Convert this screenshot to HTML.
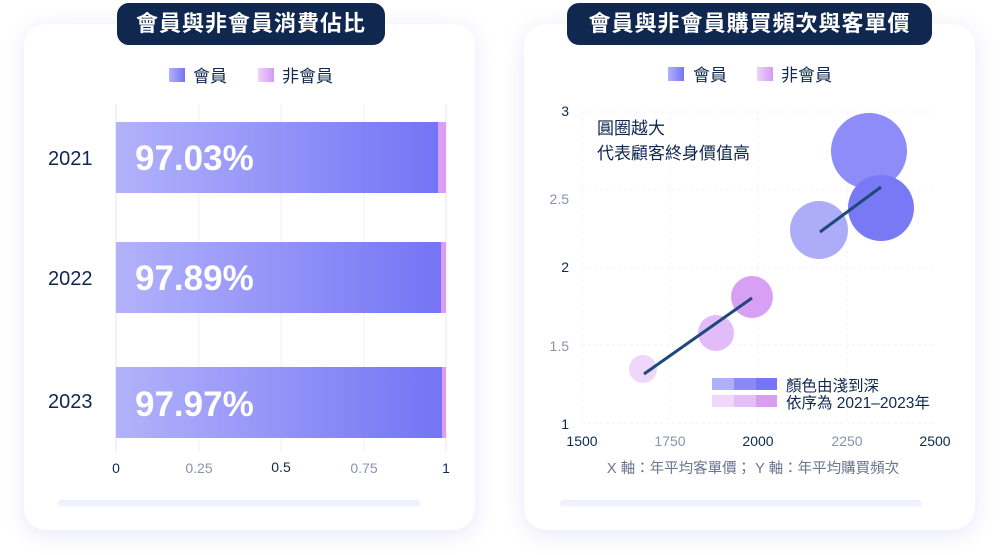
<!DOCTYPE html>
<html><head><meta charset="utf-8"><style>
*{margin:0;padding:0;box-sizing:border-box}
body{width:1000px;height:555px;background:#fff;position:relative;overflow:hidden;font-family:"Liberation Sans","Noto Sans CJK TC",sans-serif}
.card{position:absolute;top:24px;width:451px;height:506px;background:#fff;border-radius:22px;box-shadow:0 4px 22px rgba(120,120,230,.18)}
.pill{position:absolute;top:3px;height:42px;background:#10284f;border-radius:12px;color:#fff;font-size:22px;font-weight:bold;text-align:center;line-height:42px;letter-spacing:1px}
</style></head><body>
<div class="card" style="left:24px"></div>
<div class="card" style="left:524px"></div>
<div class="pill" style="left:117px;width:268px">會員與非會員消費佔比</div>
<div class="pill" style="left:567px;width:365px">會員與非會員購買頻次與客單價</div>
<svg width="1000" height="555" style="position:absolute;left:0;top:0" font-family="Liberation Sans, Noto Sans CJK TC, sans-serif">
<defs>
<linearGradient id="bar" x1="0" x2="1"><stop offset="0" stop-color="#b2b2fb"/><stop offset="1" stop-color="#7474f5"/></linearGradient>
<linearGradient id="pk" x1="0" x2="1"><stop offset="0" stop-color="#eed2fb"/><stop offset="1" stop-color="#d59af3"/></linearGradient>
<linearGradient id="sh" x1="0" x2="0" y1="0" y2="1"><stop offset="0" stop-color="#ececfd"/><stop offset="1" stop-color="#f6f6fe"/></linearGradient>
</defs>
<rect x="169" y="68" width="16" height="14" fill="url(#bar)"/>
<text x="193" y="82" font-size="17" fill="#10284f">會員</text>
<rect x="258" y="68" width="16" height="14" fill="url(#pk)"/>
<text x="282" y="82" font-size="17" fill="#10284f">非會員</text>
<g stroke="#eef0fa" stroke-width="1">
<line x1="199" y1="104" x2="199" y2="452"/><line x1="281" y1="104" x2="281" y2="452"/><line x1="364" y1="104" x2="364" y2="452"/>
</g>
<line x1="116" y1="104" x2="116" y2="452" stroke="#dfe3f5"/><line x1="446" y1="104" x2="446" y2="452" stroke="#e6e8f6"/>
<rect x="116" y="122" width="322" height="71" fill="url(#bar)"/><rect x="438" y="122" width="8" height="71" fill="#dc9df3"/>
<rect x="116" y="242" width="325" height="71" fill="url(#bar)"/><rect x="441" y="242" width="5" height="71" fill="#dc9df3"/>
<rect x="116" y="367" width="326" height="71" fill="url(#bar)"/><rect x="442" y="367" width="4" height="71" fill="#dc9df3"/>
<g font-size="35" font-weight="bold" fill="#fff"><text x="135" y="170">97.03%</text><text x="135" y="290">97.89%</text><text x="135" y="416">97.97%</text></g>
<g font-size="20" fill="#10284f"><text x="48" y="165">2021</text><text x="48" y="285">2022</text><text x="48" y="408">2023</text></g>
<g font-size="14" text-anchor="middle"><text x="116" y="473" fill="#10284f">0</text><text x="199" y="473" fill="#8a93ad">0.25</text><text x="281" y="472" fill="#10284f">0.5</text><text x="364" y="473" fill="#8a93ad">0.75</text><text x="446" y="473" fill="#10284f">1</text></g>
<rect x="58" y="500" width="362" height="7" rx="3.5" fill="url(#sh)"/>
<rect x="560" y="500" width="362" height="7" rx="3.5" fill="url(#sh)"/>
<rect x="668" y="67" width="16" height="14" fill="url(#bar)"/>
<text x="693" y="81" font-size="17" fill="#10284f">會員</text>
<rect x="757" y="67" width="16" height="14" fill="url(#pk)"/>
<text x="781" y="81" font-size="17" fill="#10284f">非會員</text>
<g stroke="#f1f3f9" stroke-dasharray="3,3">
<line x1="582" y1="112" x2="935" y2="112"/><line x1="582" y1="190" x2="935" y2="190"/><line x1="582" y1="268" x2="935" y2="268"/><line x1="582" y1="345" x2="935" y2="345"/><line x1="582" y1="423" x2="935" y2="423"/>
<line x1="670" y1="112" x2="670" y2="423"/><line x1="758" y1="112" x2="758" y2="423"/><line x1="847" y1="112" x2="847" y2="423"/><line x1="582" y1="112" x2="582" y2="423"/>
</g>
<g font-size="14" text-anchor="end"><text x="569" y="116" fill="#10284f">3</text><text x="569" y="204" fill="#8a93ad">2.5</text><text x="569" y="272" fill="#10284f">2</text><text x="569" y="351" fill="#8a93ad">1.5</text><text x="569" y="429" fill="#10284f">1</text></g>
<g font-size="14" text-anchor="middle"><text x="582" y="446" fill="#10284f">1500</text><text x="670" y="446" fill="#8a93ad">1750</text><text x="758" y="446" fill="#10284f">2000</text><text x="847" y="446" fill="#8a93ad">2250</text><text x="935" y="446" fill="#10284f">2500</text></g>
<text x="753" y="473" font-size="14.5" fill="#6a7390" text-anchor="middle">X 軸：年平均客單價； Y 軸：年平均購買頻次</text>
<text x="597" y="134" font-size="17" fill="#10284f">圓圈越大</text>
<text x="597" y="159" font-size="17" fill="#10284f">代表顧客終身價值高</text>
<circle cx="869" cy="151" r="38" fill="#8d8cf8"/>
<circle cx="881" cy="208" r="33" fill="#7a79f5"/>
<circle cx="819" cy="230" r="29" fill="#adacf9"/>
<circle cx="752" cy="297" r="21" fill="#d8a0f5"/>
<circle cx="716" cy="333" r="18" fill="#e1bcf8"/>
<circle cx="643" cy="369" r="14" fill="#efd6fb"/>
<line x1="644" y1="374" x2="752" y2="298" stroke="#1d4a7a" stroke-width="3"/>
<line x1="820" y1="232" x2="881" y2="187" stroke="#1d4a7a" stroke-width="3"/>
<rect x="712" y="378" width="22" height="12" fill="#b0b0fa"/><rect x="734" y="378" width="22" height="12" fill="#8b8af7"/><rect x="756" y="378" width="21" height="12" fill="#7675f5"/>
<rect x="712" y="395" width="22" height="12" fill="#f0d8fb"/><rect x="734" y="395" width="22" height="12" fill="#e5bef8"/><rect x="756" y="395" width="21" height="12" fill="#d89ef4"/>
<text x="786" y="391" font-size="15.5" fill="#10284f">顏色由淺到深</text>
<text x="786" y="408" font-size="15.5" fill="#10284f">依序為 2021–2023年</text>
</svg>
</body></html>
